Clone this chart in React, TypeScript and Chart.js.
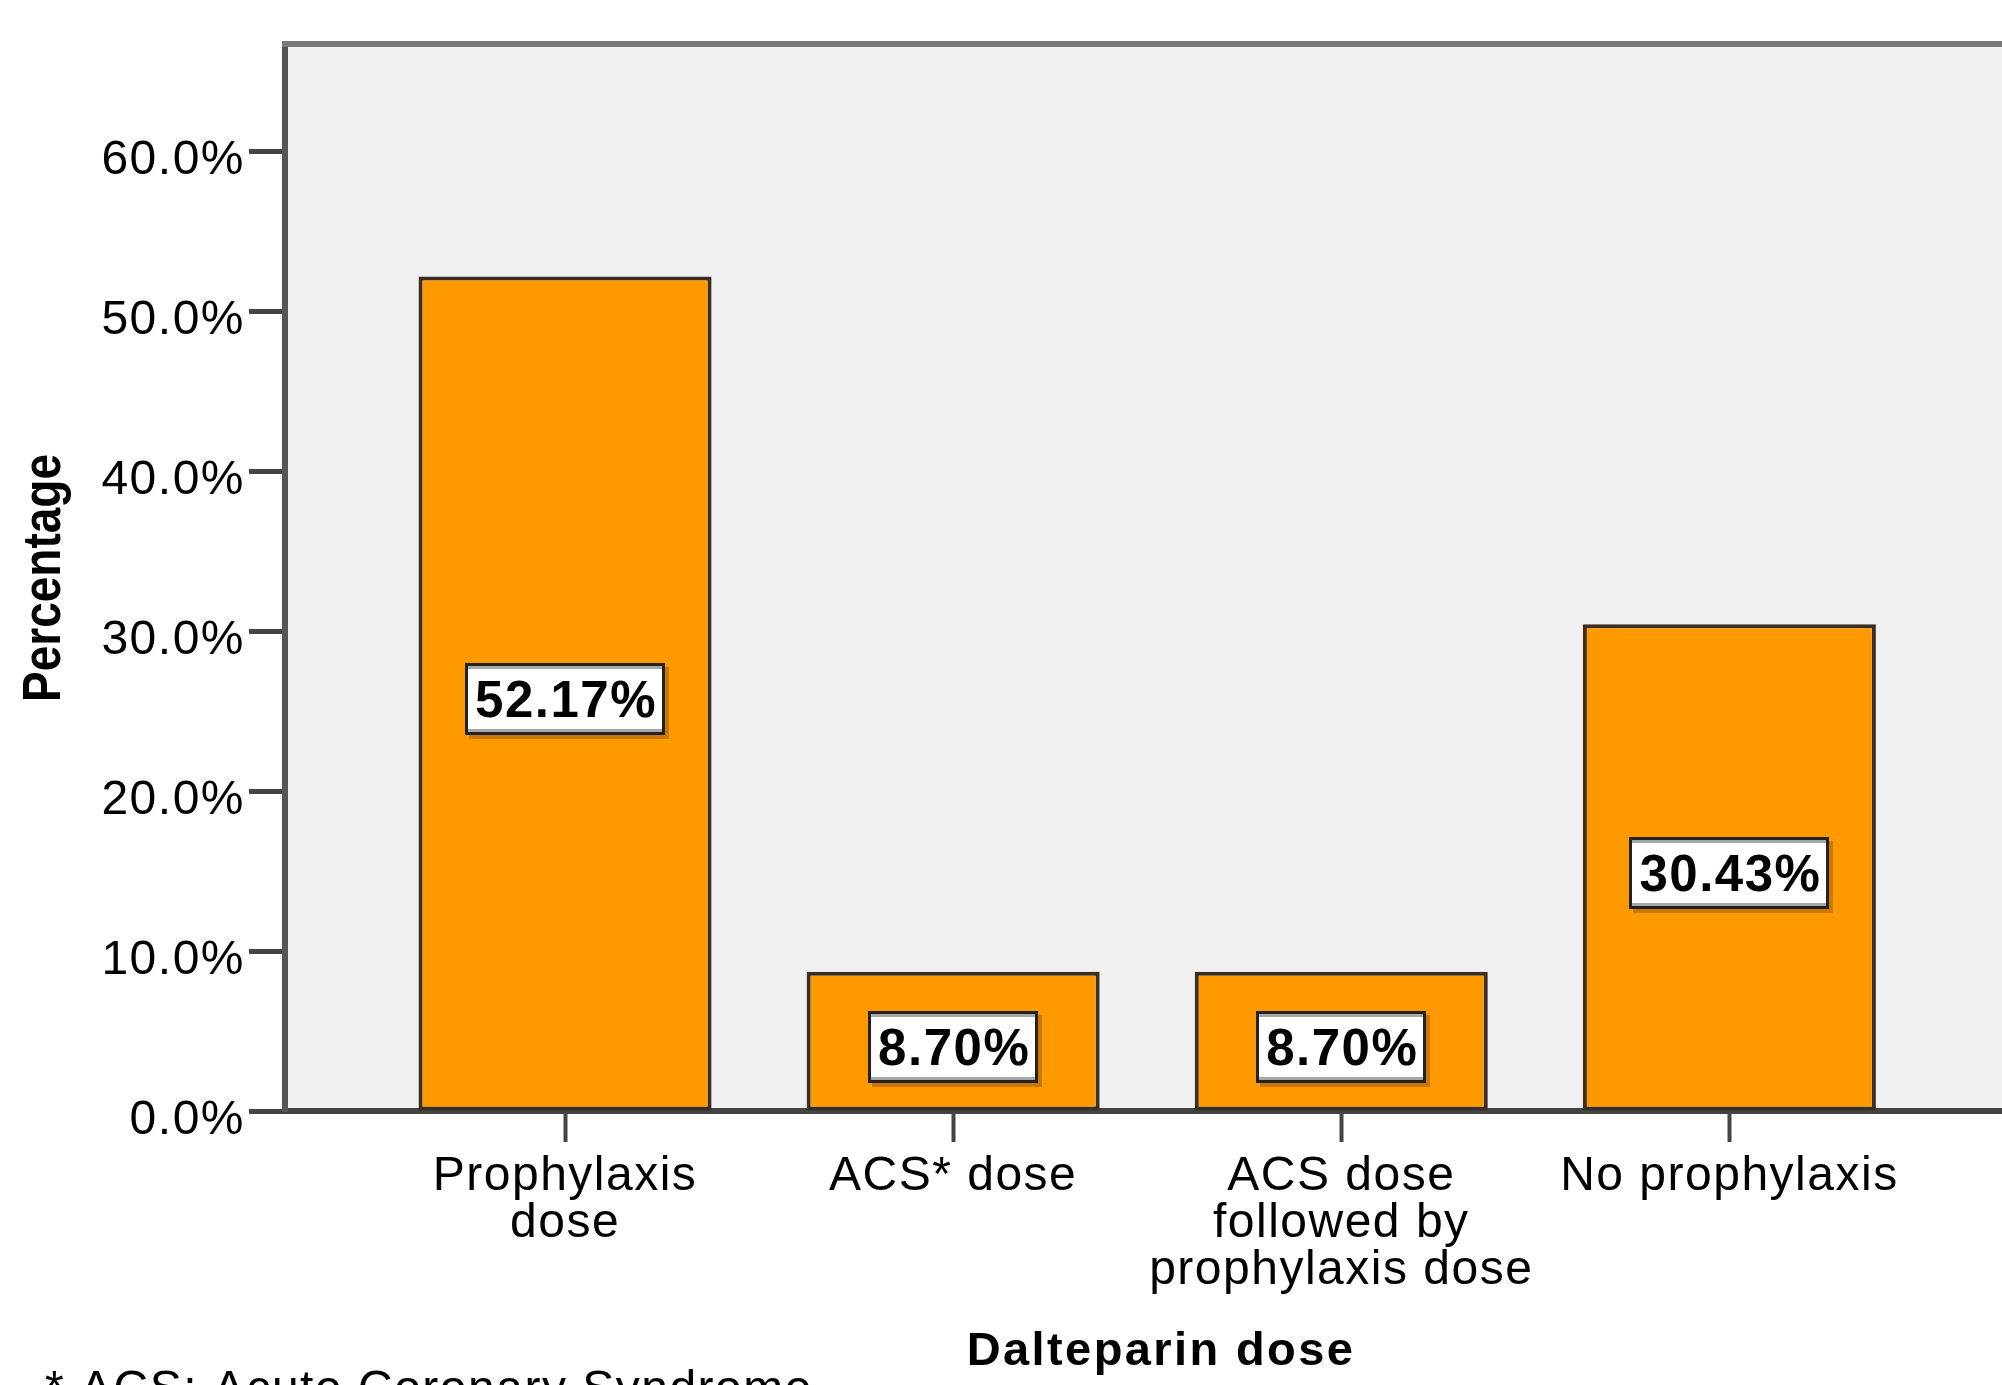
import React, { useEffect, useRef } from "react";
import { Chart, registerables } from "chart.js";

Chart.register(...registerables);

// Categories of dalteparin dose (multi-line tick labels)
const categories: string[][] = [
  ["Prophylaxis", "dose"],
  ["ACS* dose"],
  ["ACS dose", "followed by", "prophylaxis dose"],
  ["No prophylaxis"],
];

// Percentage of patients in each category
const percentages: number[] = [52.17, 8.7, 8.7, 30.43];

// Y-axis tick values (percent)
const yTickValues: number[] = [0, 10, 20, 30, 40, 50, 60];

const yAxisTitle = "Percentage";
const xAxisTitle = "Dalteparin dose";
const footnote = "* ACS: Acute Coronary Syndrome";

const W = 2002;
const H = 1385;
const FONT = "'Liberation Sans', Arial, sans-serif";

const BAR_FILL = "#FF9900";
const BAR_BORDER = "#3a2e22";

const decorPlugin = {
  id: "decor",
  beforeDraw(chart: any) {
    const { ctx, chartArea: a } = chart;
    (ctx as any).letterSpacing = "1.5px";
    ctx.save();
    ctx.fillStyle = "#ffffff";
    ctx.fillRect(0, 0, chart.width, chart.height);
    ctx.fillStyle = "#f0f0f0";
    ctx.fillRect(a.left, a.top, a.right - a.left, a.bottom - a.top);
    ctx.restore();
  },
  afterDatasetsDraw(chart: any) {
    const { ctx } = chart;
    const meta = chart.getDatasetMeta(0);
    meta.data.forEach((bar: any, i: number) => {
      const { x, y, base } = bar.getProps(["x", "y", "base"], true);
      const text = percentages[i].toFixed(2) + "%";
      ctx.save();
      ctx.font = `bold 51px ${FONT}`;
      ctx.letterSpacing = "1.5px";
      const tw = ctx.measureText(text).width;
      const bw = Math.round(tw + 18);
      const bh = 72;
      const cx = x;
      const cy = (y + base) / 2 + 6;
      const left = Math.round(cx - bw / 2);
      const top = Math.round(cy - bh / 2);
      // drop shadow
      ctx.fillStyle = "rgba(70,35,0,0.28)";
      ctx.fillRect(left + 4, top + 4, bw, bh);
      // box
      ctx.fillStyle = "#ffffff";
      ctx.fillRect(left, top, bw, bh);
      ctx.fillStyle = "#a8a8a8";
      ctx.fillRect(left, top + 3, bw, 3);
      ctx.fillRect(left, top + bh - 6, bw, 3);
      ctx.strokeStyle = "#222222";
      ctx.lineWidth = 3;
      ctx.strokeRect(left + 1.5, top + 1.5, bw - 3, bh - 3);
      // value text
      ctx.fillStyle = "#000000";
      ctx.textAlign = "center";
      ctx.textBaseline = "alphabetic";
      ctx.fillText(text, cx + 1, cy + 18);
      ctx.restore();
    });
  },
  afterDraw(chart: any) {
    const { ctx, chartArea: a } = chart;
    ctx.save();
    // top frame line of the plot area
    ctx.strokeStyle = "#797979";
    ctx.lineWidth = 6;
    ctx.beginPath();
    ctx.moveTo(a.left - 3, a.top);
    ctx.lineTo(a.right, a.top);
    ctx.stroke();

    ctx.fillStyle = "#000000";
    ctx.textBaseline = "alphabetic";

    // y-axis title (rotated)
    ctx.save();
    ctx.translate(60, 578);
    ctx.rotate(-Math.PI / 2);
    ctx.scale(1, 1.15);
    ctx.font = `bold 46px ${FONT}`;
    ctx.letterSpacing = "0px";
    ctx.textAlign = "center";
    ctx.fillText(yAxisTitle, 0, 0);
    ctx.restore();

    // x-axis title
    ctx.font = `bold 47px ${FONT}`;
    ctx.letterSpacing = "2.4px";
    ctx.textAlign = "center";
    ctx.fillText(xAxisTitle, 1161, 1365);

    // footnote
    ctx.font = `48px ${FONT}`;
    ctx.letterSpacing = "1.5px";
    ctx.textAlign = "left";
    ctx.fillText(footnote, 45, 1404);
    ctx.restore();
  },
};

export default function App() {
  const canvasRef = useRef<HTMLCanvasElement>(null);

  useEffect(() => {
    document.body.style.margin = "0";
    document.body.style.overflow = "hidden";
    const canvas = canvasRef.current;
    if (!canvas) return;

    const tickFont = { family: FONT, size: 48, lineHeight: 47 / 48 };

    const chart = new Chart(canvas, {
      type: "bar",
      data: {
        datasets: [
          {
            data: percentages.map((v, i) => ({ x: i, y: v })),
            backgroundColor: BAR_FILL,
            borderColor: BAR_BORDER,
            borderWidth: 4,
            borderSkipped: false,
            categoryPercentage: 1,
            barPercentage: 0.755,
          },
        ],
      },
      options: {
        responsive: false,
        animation: false,
        devicePixelRatio: 1,
        layout: { padding: { top: 44, left: 0, right: 0, bottom: 0 } },
        plugins: {
          legend: { display: false },
          tooltip: { enabled: false },
        },
        scales: {
          x: {
            type: "linear",
            min: -0.7216,
            max: 3.7024,
            offset: false,
            afterBuildTicks: (s: any) => {
              s.ticks = categories.map((_, i) => ({ value: i }));
            },
            afterFit: (s: any) => {
              s.height = 274;
            },
            ticks: {
              autoSkip: false,
              maxRotation: 0,
              minRotation: 0,
              padding: 11,
              color: "#000000",
              font: tickFont,
              callback: (v: any) => categories[Number(v)] ?? "",
            },
            grid: {
              display: true,
              offset: false,
              drawOnChartArea: false,
              drawTicks: true,
              tickLength: 31,
              tickWidth: 4,
              tickColor: "#444444",
            },
            border: { display: true, color: "#444444", width: 6 },
          },
          y: {
            type: "linear",
            min: 0,
            max: 66.7,
            afterBuildTicks: (s: any) => {
              s.ticks = yTickValues.map((v) => ({ value: v }));
            },
            afterFit: (s: any) => {
              s.width = 285;
            },
            ticks: {
              padding: 4,
              labelOffset: 10,
              color: "#000000",
              font: tickFont,
              callback: (v: any) => Number(v).toFixed(1) + "%",
            },
            grid: {
              display: true,
              drawOnChartArea: false,
              drawTicks: true,
              tickLength: 36,
              tickWidth: 5,
              tickColor: "#444444",
            },
            border: { display: true, color: "#555555", width: 6 },
          },
        },
      },
      plugins: [decorPlugin],
    } as any);

    return () => chart.destroy();
  }, []);

  return (
    <div style={{ position: "absolute", left: 0, top: 0, width: W, height: H, background: "#ffffff" }}>
      <canvas ref={canvasRef} width={W} height={H} style={{ width: W, height: H, display: "block" }} />
    </div>
  );
}
